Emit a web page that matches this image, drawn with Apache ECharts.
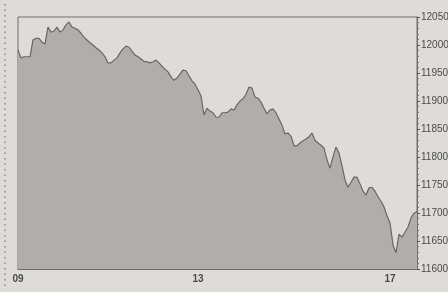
<!DOCTYPE html>
<html>
<head>
<meta charset="utf-8">
<script src="https://cdn.jsdelivr.net/npm/echarts@6/dist/echarts.min.js"></script>
<style>
  html, body { margin: 0; padding: 0; background: #dddcd9; }
  #chart { width: 448px; height: 292px; }
</style>
</head>
<body>
<div id="chart"></div>
<script>
// index values left to right
const indexValues = [
  11991, 11977, 11979, 11979, 11979, 12009, 12012, 12012, 12005, 12002,
  12032, 12023, 12025, 12032, 12023, 12027, 12036, 12041, 12032, 12030,
  12027, 12021, 12014, 12009, 12004, 12000, 11995, 11991, 11986, 11979,
  11968, 11968, 11973, 11977, 11986, 11993, 11998, 11996, 11989, 11982,
  11979, 11975, 11971, 11970, 11968, 11970, 11973, 11968, 11962, 11957,
  11952, 11943, 11937, 11941, 11948, 11955, 11954, 11945, 11936, 11930,
  11920, 11909, 11875, 11887, 11882, 11879, 11871, 11871, 11879, 11879,
  11880, 11886, 11884, 11893, 11900, 11904, 11912, 11925, 11923, 11907,
  11905, 11898, 11887, 11877, 11884, 11886, 11879, 11868, 11857, 11841,
  11843, 11837, 11820, 11820, 11825, 11829, 11832, 11836, 11843, 11830,
  11825, 11821, 11816, 11795, 11780, 11800, 11818, 11807, 11784, 11759,
  11746, 11755, 11764, 11764, 11752, 11739, 11732, 11745, 11746, 11739,
  11729, 11721, 11711, 11695, 11682, 11643, 11629, 11662, 11657, 11666,
  11675, 11691, 11700, 11702
];

// day labels and the sample index where each one sits
const dayLabels = ['09', '13', '17'];
const dayLabelIndex = [0, 60, 124];

const yMin = 11600;
const yMax = 12050;
const yStep = 50;

const categories = indexValues.map((v, i) => String(i));
const labelAt = {};
dayLabelIndex.forEach((idx, k) => { labelAt[idx] = dayLabels[k]; });

const chart = echarts.init(document.getElementById('chart'));

const option = {
    backgroundColor: '#dddcd9',
    animation: false,
    grid: {
        left: 18,
        right: 31,
        top: 17,
        bottom: 23,
        outerBoundsMode: 'none',
        containLabel: false,
        show: true,
        borderColor: '#6f6e6c',
        borderWidth: 1,
        backgroundColor: 'transparent'
    },
    xAxis: {
        type: 'category',
        data: categories,
        boundaryGap: false,
        axisLine: { show: true, lineStyle: { color: '#6f6e6c', width: 1 } },
        axisTick: {
            show: true,
            length: 3,
            inside: true,
            interval: (idx) => labelAt[idx] !== undefined,
            lineStyle: { color: '#555' }
        },
        axisLabel: {
            interval: (idx) => labelAt[idx] !== undefined,
            formatter: (val, idx) => labelAt[idx] || '',
            color: '#4a4a4a',
            fontFamily: 'Liberation Sans, Arial, sans-serif',
            fontSize: 10,
            fontWeight: 'bold',
            margin: 5
        },
        splitLine: { show: false }
    },
    yAxis: {
        type: 'value',
        position: 'right',
        min: yMin,
        max: yMax,
        interval: yStep,
        axisLine: { show: true, lineStyle: { color: '#6f6e6c', width: 1 } },
        axisTick: { show: true, length: 3, lineStyle: { color: '#555' } },
        minorTick: { show: true, splitNumber: 5, length: 2, lineStyle: { color: '#777' } },
        axisLabel: {
            formatter: (v) => String(v),
            color: '#4a4a4a',
            fontFamily: 'Liberation Sans, Arial, sans-serif',
            fontSize: 10,
            margin: 4
        },
        splitLine: { show: false }
    },
    graphic: [
        {
            type: 'line',
            shape: { x1: 5, y1: 4, x2: 5, y2: 288 },
            style: { stroke: '#8a8987', lineWidth: 1.5, lineDash: [1.5, 4] }
        }
    ],
    series: [
        {
            type: 'line',
            data: indexValues,
            showSymbol: false,
            smooth: false,
            lineStyle: { color: '#686765', width: 1.2 },
            areaStyle: { color: '#afaeab', opacity: 1, origin: 'start' }
        }
    ]
};

chart.setOption(option);
</script>
</body>
</html>
